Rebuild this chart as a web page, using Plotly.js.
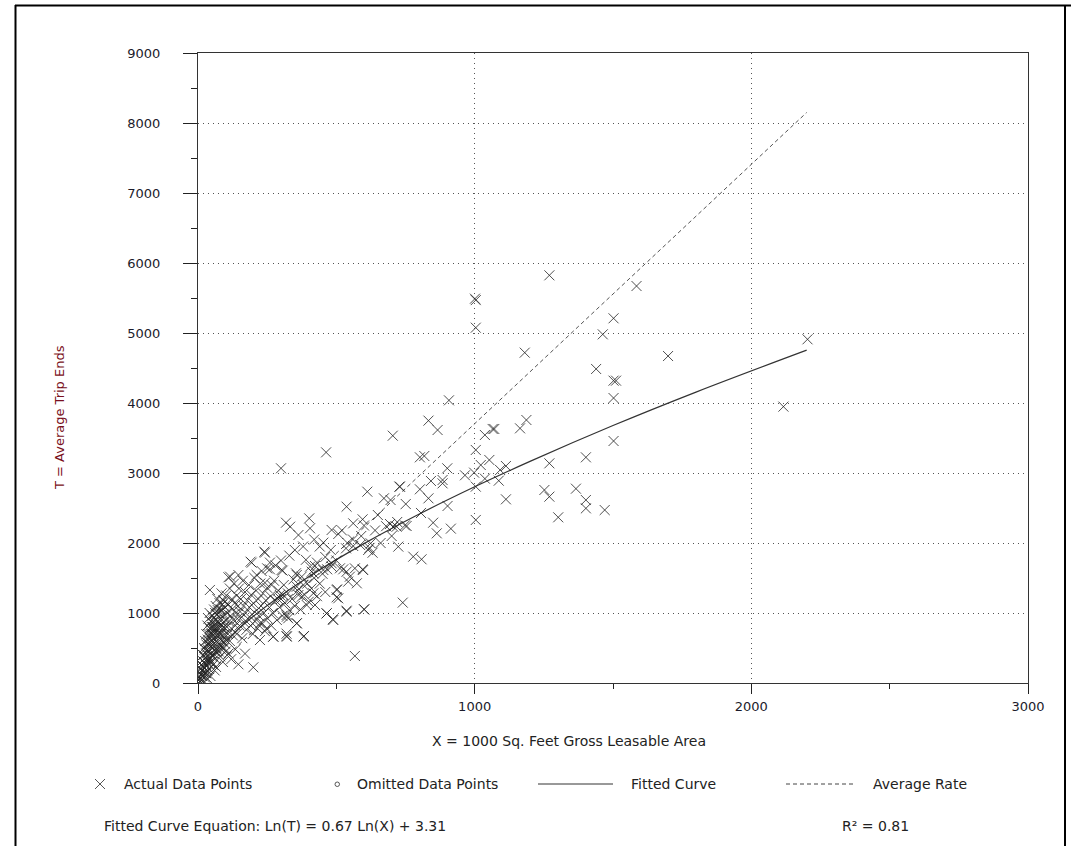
<!DOCTYPE html>
<html>
<head>
<meta charset="utf-8">
<script src="https://cdn.plot.ly/plotly-3.0.1.min.js"></script>
<style>html,body{margin:0;padding:0;background:#fff;}#chart{width:1071px;height:846px;}</style>
</head>
<body>
<div id="chart"></div>
<script>
// ---- Data ----
// Sparse / larger sites
const sparseX = [1001,1004,1004,1270,1585,1502,1463,1181,1699,1439,1502,1511,1502,2203,2116,907,833,866,1187,1164,1065,1071,1037,802,818,1004,1053,1022,998,901,965,1113,1092,1087,1037,884,884,842,802,833,751,730,748,806,850,863,914,902,1004,1004,1113,1270,1402,1502,1252,1270,1366,1402,1402,1470,1302,778,808,704,612,728,672,696,537,595,561,586,615,631,624,694,706,718,754,724,740,567,601,537,595,549,525,483,507,535,561];
const sparseT = [5490,5470,5076,5824,5671,5210,4981,4719,4671,4486,4319,4319,4071,4910,3948,4038,3748,3614,3757,3638,3629,3629,3543,3224,3243,3329,3186,3114,3005,3067,2967,3100,3043,2890,2919,2900,2852,2886,2767,2638,2557,2805,2252,2429,2290,2138,2205,2529,2805,2329,2624,3138,3224,3457,2757,2662,2776,2614,2495,2471,2367,1805,1767,3533,2733,2805,2638,2614,2519,2338,2281,1971,1900,1861,1995,2271,2233,2233,2243,1948,1148,386,1052,1019,1624,1519,1624,2186,2129,1924,1957];
// Mid-size sites
const midX = [300,463,318,333,402,405,363,453,240,190,250,302,357,423,411,467,483,503,501,465,487,417,423,363,296,320,357,383,320,272,200,146,110,146,116,43,320,242,194,260,306,354,405,417,453,483,513,537,567,597,212,242,266,308,290,357,381,375,393,501,507,543,574,465,489,537,600,272,321,381,357,321,326,224,248,224,560,590,620,640,660,680,700,720,650,600,540,520,480,440,420,380,350,330,300,280,260,230,460,500,430,390];
const midT = [3067,3295,2290,2233,2352,2210,2114,2005,1876,1733,1638,1614,1543,1671,1590,1624,1662,1338,1224,995,910,1281,1114,1257,1257,971,852,671,671,662,224,267,1510,1543,1519,1329,705,1862,1719,1624,1605,1567,1662,1567,1614,1710,1638,1590,1638,1614,1543,1433,1400,1257,1195,1376,1400,1233,1114,1329,1210,1448,1424,995,900,1033,1052,662,662,662,853,947,924,853,781,614,2050,2100,1930,2180,2000,2240,2100,2300,2400,2250,2000,2180,1900,1950,2050,1950,1900,1820,1750,1680,1720,1600,1800,1750,1720,1760];
// Small sites (dense cluster near the origin)
const smallX = [3,5,6,8,10,10,12,14,15,16,18,20,20,22,24,25,26,28,30,30,32,33,35,35,36,38,38,40,40,42,42,44,45,46,47,48,50,50,52,52,54,55,56,58,58,60,60,62,62,64,65,66,68,68,70,70,72,73,75,75,77,78,80,80,82,84,85,86,88,90,90,92,94,95,96,98,100,100,102,104,105,108,110,112,115,115,118,120,122,125,126,128,130,132,135,136,140,140,142,145,148,150,152,155,158,160,162,165,168,170,172,175,178,180,184,186,190,192,195,198,200,204,206,210,212,215,218,220,225,228,230,235,238,242,245,250,252,258,262,265,270,275,280,285,290,295,300,305,310,315,325,330,340,345,350,360,370,375,385,395,400,410,420,430,440,450,460,25,30,40,55,65,80,90,110,120,135,170,100,60,45,20,8,12,35,15,18,22,26,28,30,34,36,38,42,44,46,48,50,52,54,56,58,60,62,64,66,68,70,72,74,76,78,82,84,86,88,92,94,96,98];
const smallT = [40,90,150,60,120,200,260,100,180,320,240,150,400,300,210,480,360,260,550,420,320,180,620,480,390,700,280,560,450,780,350,640,520,880,420,720,600,300,960,500,800,680,420,1050,560,900,740,620,350,1100,820,500,980,680,580,1200,880,760,450,1000,640,1140,820,540,920,700,1280,1040,600,860,760,1180,980,500,700,1080,900,620,1250,800,1000,700,1120,880,1350,600,960,780,1200,1060,680,900,1420,1140,820,1000,1250,700,920,1100,1350,820,1020,1200,940,640,1460,1100,860,1300,1000,760,1180,920,1400,1080,820,1260,980,700,1140,1500,880,1320,1040,780,1200,960,1420,1100,860,1280,1000,740,1180,1360,920,1080,1240,820,1000,1460,1180,900,1320,1080,1200,960,1400,1140,1280,1040,1200,1480,1100,1320,1050,1520,1260,1420,1160,1350,1500,1240,1420,1560,1300,80,140,200,260,230,380,300,420,340,480,420,450,180,100,30,20,40,60,250,400,500,600,140,700,820,560,920,1000,300,700,560,800,700,380,880,760,460,1000,780,900,440,700,1040,560,860,700,1050,480,820,1120,660,800,1160,560];
// Fitted curve Ln(T) = 0.67 Ln(X) + 3.31
const fitX = [3,10,50,100,200,400,600,800,1000,1200,1500,1800,2200];
const fitT = [57,128,377,599,953,1517,1991,2414,2803,3166,3678,4156,4755];
// Average rate line
const avgX = [0,2200];
const avgT = [0,8150];
// Tick labels
const xTicks = [0,1000,2000,3000];
const yTicks = [0,1000,2000,3000,4000,5000,6000,7000,8000,9000];

const ptsX = sparseX.concat(midX, smallX);
const ptsT = sparseT.concat(midT, smallT);

// ---- Layout helpers (pixel -> paper) ----
const L = 198, R = 1028, TOP = 53, BOT = 683;
const px = p => (p - L) / (R - L);
const py = p => (BOT - p) / (BOT - TOP);
const FONT = 'DejaVu Sans, Verdana, sans-serif';

const traces = [
  {x: avgX, y: avgT, mode: 'lines', line: {color: '#555', width: 1, dash: '4px,3px'}, hoverinfo: 'skip'},
  {x: fitX, y: fitT, mode: 'lines', line: {color: '#333', width: 1.2, shape: 'spline'}, hoverinfo: 'skip'},
  {x: ptsX, y: ptsT, mode: 'markers', marker: {symbol: 'x-thin-open', size: 10, line: {width: 1, color: 'rgba(35,35,35,0.8)'}, color: 'rgba(35,35,35,0.8)'}}
];

const annotations = [
  {text: 'X = 1000 Sq. Feet Gross Leasable Area', x: px(569), y: py(741), xanchor: 'center', yanchor: 'middle'},
  {text: 'T = Average Trip Ends', x: px(60), y: py(418), xanchor: 'center', yanchor: 'middle', textangle: -90, font: {family: FONT, size: 13, color: '#7a1020'}},
  {text: 'Actual Data Points', x: px(122), y: py(784), xanchor: 'left', yanchor: 'middle'},
  {text: 'Omitted Data Points', x: px(355), y: py(784), xanchor: 'left', yanchor: 'middle'},
  {text: 'Fitted Curve', x: px(629), y: py(784), xanchor: 'left', yanchor: 'middle'},
  {text: 'Average Rate', x: px(871), y: py(784), xanchor: 'left', yanchor: 'middle'},
  {text: 'Fitted Curve Equation: Ln(T) = 0.67 Ln(X) + 3.31', x: px(102), y: py(826), xanchor: 'left', yanchor: 'middle'},
  {text: 'R² = 0.81', x: px(840), y: py(826), xanchor: 'left', yanchor: 'middle'}
].map(a => Object.assign({xref: 'paper', yref: 'paper', showarrow: false, font: {family: FONT, size: 14, color: '#222'}}, a));

const shapes = [
  // outer frame
  {type: 'line', x0: px(15), x1: px(1071), y0: py(5.5), y1: py(5.5), line: {color: '#000', width: 2}},
  {type: 'line', x0: px(15.5), x1: px(15.5), y0: py(5), y1: py(846), line: {color: '#000', width: 2}},
  {type: 'line', x0: px(1065), x1: px(1065), y0: py(5), y1: py(846), line: {color: '#000', width: 2}},
  // legend symbols
  {type: 'line', x0: px(95), x1: px(105), y0: py(779), y1: py(789), line: {color: '#555', width: 1}},
  {type: 'line', x0: px(95), x1: px(105), y0: py(789), y1: py(779), line: {color: '#555', width: 1}},
  {type: 'circle', x0: px(335), x1: px(339.5), y0: py(782), y1: py(786.5), line: {color: '#555', width: 1}},
  {type: 'line', x0: px(538), x1: px(613), y0: py(784), y1: py(784), line: {color: '#333', width: 1}},
  {type: 'line', x0: px(786), x1: px(856), y0: py(784), y1: py(784), line: {color: '#444', width: 1, dash: '4px,3px'}}
].map(s => Object.assign({xref: 'paper', yref: 'paper'}, s));

const axisCommon = {
  showline: true, linecolor: '#333', linewidth: 1, mirror: true,
  showgrid: true, gridcolor: '#555', gridwidth: 1, griddash: '1px,4px',
  zeroline: false, ticks: 'outside', tickcolor: '#222', tickwidth: 1,
  tickfont: {family: FONT, size: 13, color: '#1b1b2b'}, fixedrange: true
};

const layout = {
  width: 1071, height: 846,
  margin: {l: L, r: 1071 - R, t: TOP, b: 846 - BOT, pad: 0},
  paper_bgcolor: '#fff', plot_bgcolor: '#fff',
  showlegend: false,
  xaxis: Object.assign({}, axisCommon, {
    range: [0, 3000], tickmode: 'array', tickvals: xTicks, ticktext: xTicks.map(String),
    ticklen: 10, ticklabelstandoff: 1,
    minor: {tick0: 0, dtick: 500, ticks: 'outside', ticklen: 5, tickcolor: '#222', showgrid: false}
  }),
  yaxis: Object.assign({}, axisCommon, {
    range: [0, 9000], tickmode: 'array', tickvals: yTicks, ticktext: yTicks.map(String),
    ticklen: 14, ticklabelstandoff: 20,
    minor: {tick0: 0, dtick: 500, ticks: 'outside', ticklen: 6, tickcolor: '#222', showgrid: false}
  }),
  annotations: annotations,
  shapes: shapes
};

Plotly.newPlot('chart', traces, layout, {staticPlot: true, displayModeBar: false});
</script>
</body>
</html>
